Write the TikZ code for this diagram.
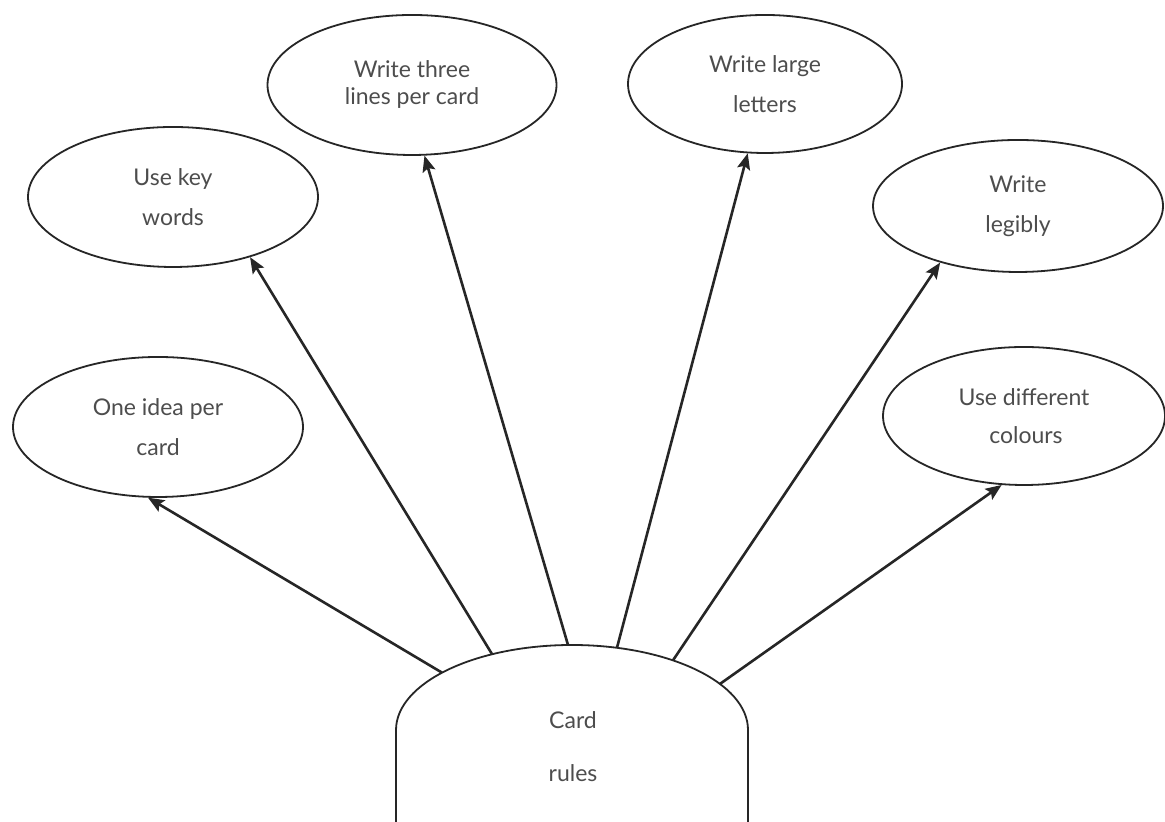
\documentclass[tikz,border=0pt]{standalone}
\usepackage{fontspec}
\setmainfont{Lato}
\usetikzlibrary{arrows.meta,calc,shapes.geometric}
\definecolor{ink}{HTML}{262626}
\definecolor{txt}{HTML}{4D4D4D}
\begin{document}
\begin{tikzpicture}[x=0.5pt,y=0.5pt,
  idea/.style={ellipse,draw=ink,line width=0.9pt,inner sep=0pt,align=center,text=txt,font=\fontsize{11.5}{13}\selectfont},
  conn/.style={draw=ink,line width=1.3pt,-{Stealth[length=8pt,width=6.5pt,inset=1.5pt]}},
  cardtext/.style={align=center,text=txt,font=\fontsize{11.5}{13}\selectfont}]
\useasboundingbox (0,0) rectangle (1165,822);
\fill[white] (0,0) rectangle (1165,822);
% ideas
\node[idea,minimum width=145pt,minimum height=70pt] (e1) at (158,395) {One idea per\\[7pt]card};
\node[idea,minimum width=145pt,minimum height=70pt] (e2) at (173,625) {Use key\\[7pt]words};
\node[idea,minimum width=144.5pt,minimum height=70pt] (e3) at (412,737) {Write three\\[0.5pt]lines per card};
\node[idea,minimum width=137pt,minimum height=69pt] (e4) at (765,738) {Write large\\[7pt]letters};
\node[idea,minimum width=145pt,minimum height=66pt] (e5) at (1018,616) {Write\\[7pt]legibly};
\node[idea,minimum width=141pt,minimum height=69pt] (e6) at (1024,406) {Use different\\[6pt]\,colours};
% card
\draw[ink,line width=0.9pt] (396,-5) -- (396,92) arc[start angle=180,end angle=0,x radius=176,y radius=85] -- (748,-5);
\node[cardtext] (card) at (573,75) {Card\\[13.5pt]rules};
\coordinate (cc) at (572,92);
\coordinate (s1) at ($(cc)+(137.6:176 and 85)$);
\coordinate (s2) at ($(cc)+(117:176 and 85)$);
\coordinate (s3) at ($(cc)+(91.3:176 and 85)$);
\coordinate (s4) at ($(cc)+(75.2:176 and 85)$);
\coordinate (s5) at ($(cc)+(55:176 and 85)$);
\coordinate (s6) at ($(cc)+(32.8:176 and 85)$);
% connectors
\draw[conn] (s1) -- (e1.262);
\draw[conn] (s2) -- (e2.322);
\draw[conn] (s3) -- (e3.280);
\draw[conn] (s4) -- (e4.256);
\draw[conn] (s5) -- (e5.216);
\draw[conn] (s6) -- (e6.252.6);
\end{tikzpicture}
\end{document}
